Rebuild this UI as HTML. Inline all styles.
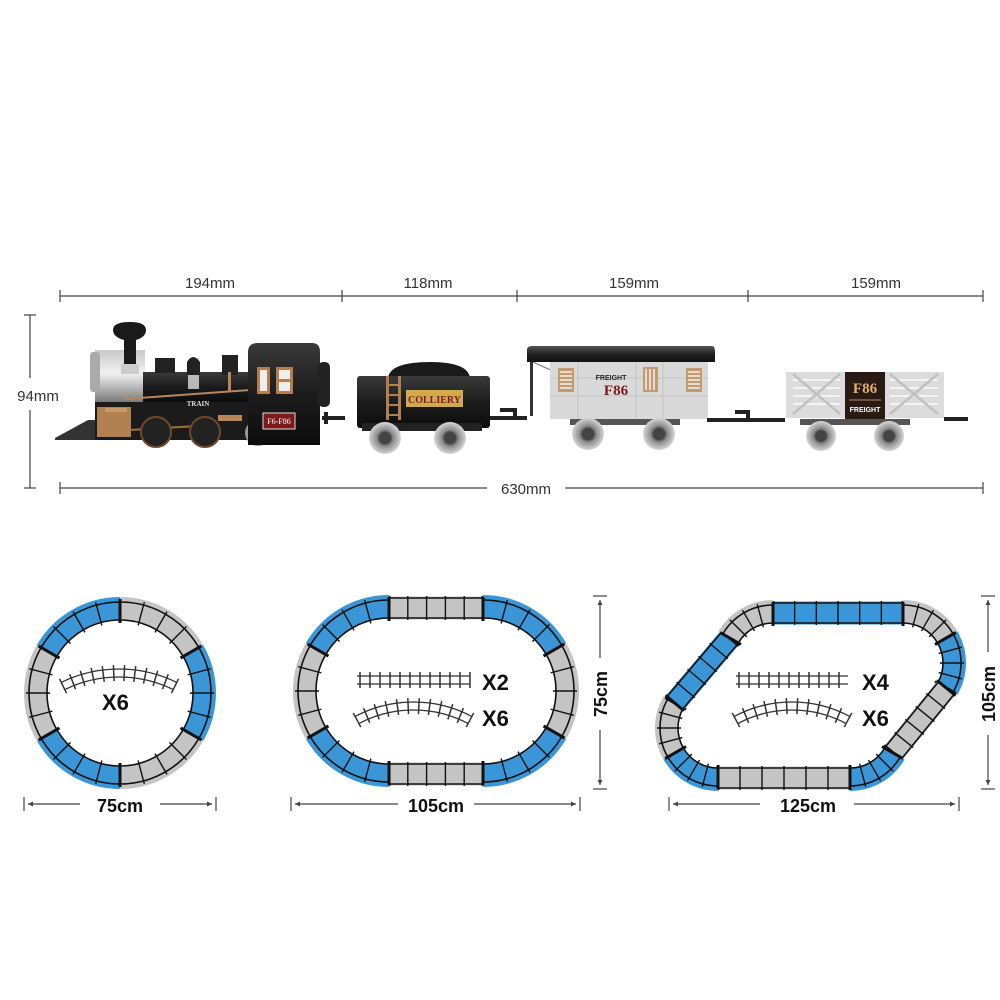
<!DOCTYPE html>
<html><head><meta charset="utf-8"><style>
html,body{margin:0;padding:0;background:#fff;width:1000px;height:1000px;overflow:hidden}
svg{display:block}
.dim{font-family:"Liberation Sans",sans-serif;font-size:15px;fill:#333}
.big{font-family:"Liberation Sans",sans-serif;font-weight:bold;fill:#111}
</style></head><body>
<svg id="s" width="1000" height="1000" viewBox="0 0 1000 1000" xmlns="http://www.w3.org/2000/svg">
<defs>
<linearGradient id="silver" x1="0" y1="0" x2="0" y2="1"><stop offset="0" stop-color="#c8c8c8"/><stop offset="0.45" stop-color="#f2f2f2"/><stop offset="1" stop-color="#7a7a7a"/></linearGradient>
<linearGradient id="blk" x1="0" y1="0" x2="0" y2="1"><stop offset="0" stop-color="#3a3a3a"/><stop offset="0.5" stop-color="#1c1c1c"/><stop offset="1" stop-color="#0c0c0c"/></linearGradient>
<linearGradient id="roof" x1="0" y1="0" x2="0" y2="1"><stop offset="0" stop-color="#555"/><stop offset="0.5" stop-color="#222"/><stop offset="1" stop-color="#111"/></linearGradient>
<radialGradient id="whl"><stop offset="0.35" stop-color="#444"/><stop offset="0.5" stop-color="#888"/><stop offset="1" stop-color="#d6d6d6"/></radialGradient>
</defs>

<g stroke="#444" stroke-width="1.2" fill="none">
<line x1="60" y1="296" x2="983" y2="296"/>
<line x1="60" y1="290" x2="60" y2="302"/><line x1="342" y1="290" x2="342" y2="302"/><line x1="517" y1="290" x2="517" y2="302"/><line x1="748" y1="290" x2="748" y2="302"/><line x1="983" y1="290" x2="983" y2="302"/>
<line x1="30" y1="315" x2="30" y2="378"/><line x1="30" y1="410" x2="30" y2="488"/>
<line x1="24" y1="315" x2="36" y2="315"/><line x1="24" y1="488" x2="36" y2="488"/>
<line x1="60" y1="488" x2="487" y2="488"/><line x1="565" y1="488" x2="983" y2="488"/>
<line x1="60" y1="482" x2="60" y2="494"/><line x1="983" y1="482" x2="983" y2="494"/>
</g>
<g class="dim" text-anchor="middle">
<text x="210" y="288">194mm</text><text x="428" y="288">118mm</text><text x="634" y="288">159mm</text><text x="876" y="288">159mm</text>
<text x="38" y="401">94mm</text><text x="526" y="494">630mm</text>
</g>

<g>
<polygon points="55,438 88,420 100,420 100,440 55,440" fill="#333"/>
<rect x="95" y="350" width="50" height="52" fill="url(#silver)"/>
<rect x="90" y="352" width="10" height="40" rx="3" fill="#aaa"/>
<rect x="143" y="372" width="107" height="30" fill="url(#blk)"/>
<line x1="125" y1="399" x2="250" y2="390" stroke="#b8865a" stroke-width="2"/>
<path d="M113,330 Q113,322 130,322 Q146,322 146,330 Q146,337 136,340 L136,370 L124,370 L124,340 Q113,337 113,330Z" fill="#1a1a1a"/>
<rect x="121" y="364" width="18" height="10" fill="#ccc"/>
<rect x="155" y="358" width="20" height="15" fill="#222"/>
<path d="M187,375 L187,362 Q193,352 200,362 L200,375Z" fill="#222"/>
<rect x="188" y="375" width="11" height="14" fill="#ddd" opacity="0.8"/>
<rect x="222" y="355" width="16" height="20" fill="#222"/>
<rect x="228" y="372" width="3" height="20" fill="#b8865a"/>
<rect x="95" y="402" width="155" height="38" fill="#1b1b1b"/>
<rect x="97" y="407" width="34" height="30" fill="#b08050"/>
<rect x="105" y="408" width="22" height="4" fill="#c89a68"/>
<text x="198" y="406" font-family="Liberation Serif,serif" font-size="7" fill="#ddd" text-anchor="middle" font-weight="bold">TRAIN</text>
<rect x="218" y="415" width="24" height="6" fill="#b8865a"/>
<line x1="130" y1="430" x2="215" y2="425" stroke="#a07040" stroke-width="2"/>
<circle cx="156" cy="432" r="15" fill="#222" stroke="#6d4b2a" stroke-width="2"/>
<circle cx="205" cy="432" r="15" fill="#222" stroke="#6d4b2a" stroke-width="2"/>
<circle cx="258" cy="433" r="13" fill="#999"/>
<path d="M248,352 Q248,343 258,343 L312,343 Q320,343 320,352 L320,445 L248,445Z" fill="url(#blk)"/>
<rect x="318" y="362" width="12" height="45" rx="5" fill="#222"/>
<rect x="257" y="367" width="13" height="27" fill="#b08050"/><rect x="260" y="370" width="7" height="21" fill="#eee"/>
<rect x="276" y="367" width="17" height="27" fill="#b08050"/><rect x="279" y="370" width="11" height="9" fill="#eee"/><rect x="279" y="382" width="11" height="9" fill="#eee"/>
<rect x="263" y="413" width="32" height="16" fill="#7a1a1a" stroke="#ddd" stroke-width="1"/>
<text x="279" y="424" font-family="Liberation Serif,serif" font-size="8" fill="#fff" text-anchor="middle">F6-F86</text>
<path d="M322,418 L345,418 M326,412 L326,424" stroke="#222" stroke-width="4"/>
</g>

<g>
<path d="M388,378 Q390,362 430,362 Q468,362 470,378Z" fill="#1a1a1a"/>
<rect x="357" y="376" width="133" height="52" rx="3" fill="url(#blk)"/>
<rect x="386" y="376" width="3" height="44" fill="#b08050"/><rect x="398" y="376" width="3" height="44" fill="#b08050"/>
<g stroke="#b08050" stroke-width="2"><line x1="387" y1="385" x2="400" y2="385"/><line x1="387" y1="395" x2="400" y2="395"/><line x1="387" y1="405" x2="400" y2="405"/><line x1="387" y1="415" x2="400" y2="415"/></g>
<rect x="406" y="390" width="57" height="17" fill="#d4a94e"/>
<text x="434.5" y="403" font-family="Liberation Serif,serif" font-size="10" font-weight="bold" fill="#7a1a1a" text-anchor="middle">COLLIERY</text>
<rect x="362" y="423" width="120" height="8" fill="#222"/>
<circle cx="385" cy="438" r="16" fill="url(#whl)"/><circle cx="450" cy="438" r="16" fill="url(#whl)"/>
<path d="M490,418 L527,418 M500,410 L515,410 L515,418" stroke="#222" stroke-width="4" fill="none"/>
</g>

<g>
<rect x="530" y="360" width="3" height="56" fill="#333"/>
<path d="M533,362 L555,372" stroke="#777" stroke-width="1"/>
<rect x="550" y="362" width="158" height="57" fill="#d9d9d9"/>
<g stroke="#c4c4c4" stroke-width="1"><line x1="550" y1="378" x2="708" y2="378"/><line x1="550" y1="396" x2="708" y2="396"/><line x1="578" y1="362" x2="578" y2="419"/><line x1="636" y1="362" x2="636" y2="419"/><line x1="663" y1="362" x2="663" y2="419"/></g>
<path d="M527,350 Q527,346 532,346 L712,346 Q715,346 715,352 L715,362 L527,362Z" fill="url(#roof)"/>
<rect x="558" y="368" width="16" height="24" fill="#c49a70"/><g stroke="#f2f2f2" stroke-width="1.5"><line x1="560" y1="372" x2="572" y2="372"/><line x1="560" y1="376" x2="572" y2="376"/><line x1="560" y1="380" x2="572" y2="380"/><line x1="560" y1="384" x2="572" y2="384"/><line x1="560" y1="388" x2="572" y2="388"/></g>
<rect x="643" y="367" width="15" height="25" fill="#c49a70"/><g stroke="#f2f2f2" stroke-width="1.5"><line x1="646" y1="369" x2="646" y2="390"/><line x1="650" y1="369" x2="650" y2="390"/><line x1="654" y1="369" x2="654" y2="390"/></g>
<rect x="686" y="368" width="16" height="24" fill="#c49a70"/><g stroke="#f2f2f2" stroke-width="1.5"><line x1="688" y1="372" x2="700" y2="372"/><line x1="688" y1="376" x2="700" y2="376"/><line x1="688" y1="380" x2="700" y2="380"/><line x1="688" y1="384" x2="700" y2="384"/><line x1="688" y1="388" x2="700" y2="388"/></g>
<text x="611" y="380" font-family="Liberation Sans,sans-serif" font-size="7" font-weight="bold" fill="#222" text-anchor="middle">FREIGHT</text>
<text x="616" y="395" font-family="Liberation Serif,serif" font-size="15" font-weight="bold" fill="#7a1a1a" text-anchor="middle">F86</text>
<rect x="570" y="419" width="110" height="6" fill="#555"/>
<circle cx="588" cy="434" r="16" fill="url(#whl)"/><circle cx="659" cy="434" r="16" fill="url(#whl)"/>
<path d="M707,420 L785,420 M735,412 L748,412 L748,420" stroke="#222" stroke-width="4" fill="none"/>
</g>

<g>
<rect x="786" y="372" width="158" height="46" fill="#dcdcdc"/>
<g stroke="#f4f4f4" stroke-width="2"><line x1="793" y1="380" x2="840" y2="380"/><line x1="793" y1="388" x2="840" y2="388"/><line x1="793" y1="396" x2="840" y2="396"/><line x1="793" y1="404" x2="840" y2="404"/><line x1="890" y1="380" x2="938" y2="380"/><line x1="890" y1="388" x2="938" y2="388"/><line x1="890" y1="396" x2="938" y2="396"/><line x1="890" y1="404" x2="938" y2="404"/></g>
<g stroke="#c0c0c0" stroke-width="2.5"><line x1="793" y1="374" x2="840" y2="414"/><line x1="840" y1="374" x2="793" y2="414"/><line x1="890" y1="374" x2="938" y2="414"/><line x1="938" y1="374" x2="890" y2="414"/></g>
<rect x="845" y="372" width="40" height="47" fill="#2a1a14"/>
<text x="865" y="393" font-family="Liberation Serif,serif" font-size="15" font-weight="bold" fill="#e0b070" text-anchor="middle">F86</text>
<line x1="849" y1="400" x2="881" y2="400" stroke="#c08a50" stroke-width="1"/>
<text x="865" y="412" font-family="Liberation Sans,sans-serif" font-size="7" font-weight="bold" fill="#fff" text-anchor="middle">FREIGHT</text>
<rect x="800" y="419" width="110" height="6" fill="#555"/>
<circle cx="821" cy="436" r="15" fill="url(#whl)"/><circle cx="889" cy="436" r="15" fill="url(#whl)"/>
<path d="M944,419 L968,419" stroke="#222" stroke-width="4"/>
</g>

<g id="tracks"></g>

<g stroke="#444" stroke-width="1.2" fill="none">
<line x1="24" y1="797" x2="24" y2="811"/><line x1="216" y1="797" x2="216" y2="811"/>
<line x1="28" y1="804" x2="80" y2="804"/><line x1="160" y1="804" x2="212" y2="804"/>
<line x1="291" y1="797" x2="291" y2="811"/><line x1="580" y1="797" x2="580" y2="811"/>
<line x1="295" y1="804" x2="398" y2="804"/><line x1="474" y1="804" x2="576" y2="804"/>
<line x1="669" y1="797" x2="669" y2="811"/><line x1="959" y1="797" x2="959" y2="811"/>
<line x1="673" y1="804" x2="760" y2="804"/><line x1="854" y1="804" x2="955" y2="804"/>
<line x1="593" y1="596" x2="607" y2="596"/><line x1="593" y1="789" x2="607" y2="789"/>
<line x1="600" y1="600" x2="600" y2="658"/><line x1="600" y1="730" x2="600" y2="785"/>
<line x1="981" y1="596" x2="995" y2="596"/><line x1="981" y1="789" x2="995" y2="789"/>
<line x1="988" y1="600" x2="988" y2="652"/><line x1="988" y1="735" x2="988" y2="785"/>
</g>
<g fill="#444"><path d="M28,804 l5,-2.5 v5z M212,804 l-5,-2.5 v5z M295,804 l5,-2.5 v5z M576,804 l-5,-2.5 v5z M673,804 l5,-2.5 v5z M955,804 l-5,-2.5 v5z M600,600 l-2.5,5 h5z M600,785 l-2.5,-5 h5z M988,600 l-2.5,5 h5z M988,785 l-2.5,-5 h5z"/></g>
<g class="big" text-anchor="middle" font-size="18">
<text x="120" y="812">75cm</text><text x="436" y="812">105cm</text><text x="808" y="812">125cm</text>
<text transform="translate(607,694) rotate(-90)">75cm</text>
<text transform="translate(995,694) rotate(-90)">105cm</text>
</g>
<g class="big" font-size="22">
<text x="102" y="710">X6</text>
<text x="482" y="690">X2</text><text x="482" y="726">X6</text>
<text x="862" y="690">X4</text><text x="862" y="726">X6</text>
</g>
</svg>
<script>
(function(){
var NS="http://www.w3.org/2000/svg",g=document.getElementById("tracks"),BL="#3a96d6",GR="#c4c4c4";
function el(t,a){var e=document.createElementNS(NS,t);for(var k in a)e.setAttribute(k,a[k]);g.appendChild(e);return e;}
function P(cx,cy,r,a){a=a*Math.PI/180;return [cx+r*Math.cos(a),cy+r*Math.sin(a)];}
function arcD(cx,cy,r,a0,a1){var p=P(cx,cy,r,a0),q=P(cx,cy,r,a1),lg=Math.abs(a1-a0)>180?1:0,sw=a1>a0?1:0;return "M"+p[0]+","+p[1]+" A"+r+","+r+" 0 "+lg+" "+sw+" "+q[0]+","+q[1];}
function arc(cx,cy,r,a0,a1,c){
 el("path",{d:arcD(cx,cy,r+1.5,a0,a1),stroke:c,"stroke-width":23,fill:"none"});
 el("path",{d:arcD(cx,cy,r-10,a0,a1),stroke:"#111","stroke-width":1.6,fill:"none"});
 el("path",{d:arcD(cx,cy,r+8,a0,a1),stroke:"#111","stroke-width":1.6,fill:"none"});
 var n=4;for(var i=0;i<=n;i++){var a=a0+(a1-a0)*i/n,p=P(cx,cy,r-13,a),q=P(cx,cy,r+11,a);
  el("line",{x1:p[0],y1:p[1],x2:q[0],y2:q[1],stroke:"#111","stroke-width":(i==0||i==n)?3:1.4});}
}
function str(x0,y0,x1,y1,c,n){
 var dx=x1-x0,dy=y1-y0,L=Math.hypot(dx,dy),nx=-dy/L,ny=dx/L;
 function ln(o,w,col){el("line",{x1:x0+nx*o,y1:y0+ny*o,x2:x1+nx*o,y2:y1+ny*o,stroke:col,"stroke-width":w});}
 el("polygon",{points:[x0+nx*-11.5,y0+ny*-11.5,x1+nx*-11.5,y1+ny*-11.5,x1+nx*11.5,y1+ny*11.5,x0+nx*11.5,y0+ny*11.5].join(","),fill:c});
 ln(-10,1.6,"#111");ln(10,1.6,"#111");
 for(var i=0;i<=n;i++){var x=x0+dx*i/n,y=y0+dy*i/n;el("line",{x1:x+nx*-12,y1:y+ny*-12,x2:x+nx*12,y2:y+ny*12,stroke:"#111","stroke-width":(i==0||i==n)?3:1.4});}
}
var cx=120,cy=693,r=83;
[[-90,-30,GR],[-30,30,BL],[30,90,GR],[90,150,BL],[150,210,GR],[210,270,BL]].forEach(function(s){arc(cx,cy,r,s[0],s[1],s[2]);});
var lc=389,rc=483,oy=691,or=83;
str(lc,oy-or,rc,oy-or,GR,5);str(lc,oy+or,rc,oy+or,GR,5);
arc(rc,oy,or,-90,-30,BL);arc(rc,oy,or,-30,30,GR);arc(rc,oy,or,30,90,BL);
arc(lc,oy,or,90,150,BL);arc(lc,oy,or,150,210,GR);arc(lc,oy,or,210,270,BL);
var R=50;
str(773,613,903,613,BL,6);
arc(903,663,R,-90,-30,GR);arc(903,663,R,-30,30,BL);
var a=P(903,663,R,30),b=P(850,728,R,30);
str(a[0],a[1],b[0],b[1],GR,5);
arc(850,728,R,30,90,BL);
str(850,778,718,778,GR,6);
arc(718,728,R,90,150,BL);arc(718,728,R,150,210,GR);
var c=P(718,728,R,210),d=P(773,663,R,210);
str(c[0],c[1],d[0],d[1],BL,5);
arc(773,663,R,210,270,GR);
function ministr(x0,x1,y){el("line",{x1:x0,y1:y-4,x2:x1,y2:y-4,stroke:"#333","stroke-width":1.3});el("line",{x1:x0,y1:y+4,x2:x1,y2:y+4,stroke:"#333","stroke-width":1.3});
 for(var x=x0+3;x<=x1;x+=10)el("line",{x1:x,y1:y-8,x2:x,y2:y+8,stroke:"#333","stroke-width":1.5});}
function minicurve(x0,x1,y,h){var mx=(x0+x1)/2,w=(x1-x0)/2,rr=(w*w+h*h)/(2*h),ccy=y-h+rr;
 var a0=Math.atan2(y-ccy,x0-mx)*180/Math.PI,a1=Math.atan2(y-ccy,x1-mx)*180/Math.PI;
 el("path",{d:arcD(mx,ccy,rr-4,a0,a1),stroke:"#333","stroke-width":1.3,fill:"none"});
 el("path",{d:arcD(mx,ccy,rr+4,a0,a1),stroke:"#333","stroke-width":1.3,fill:"none"});
 for(var i=0;i<=11;i++){var aa=a0+(a1-a0)*i/11,p=P(mx,ccy,rr-8,aa),q=P(mx,ccy,rr+8,aa);el("line",{x1:p[0],y1:p[1],x2:q[0],y2:q[1],stroke:"#333","stroke-width":1.5});}}
minicurve(63,175,686,13);
ministr(357,470,680);minicurve(357,470,720,14);
ministr(736,848,680);minicurve(736,848,720,14);
})();
</script>
</body></html>
